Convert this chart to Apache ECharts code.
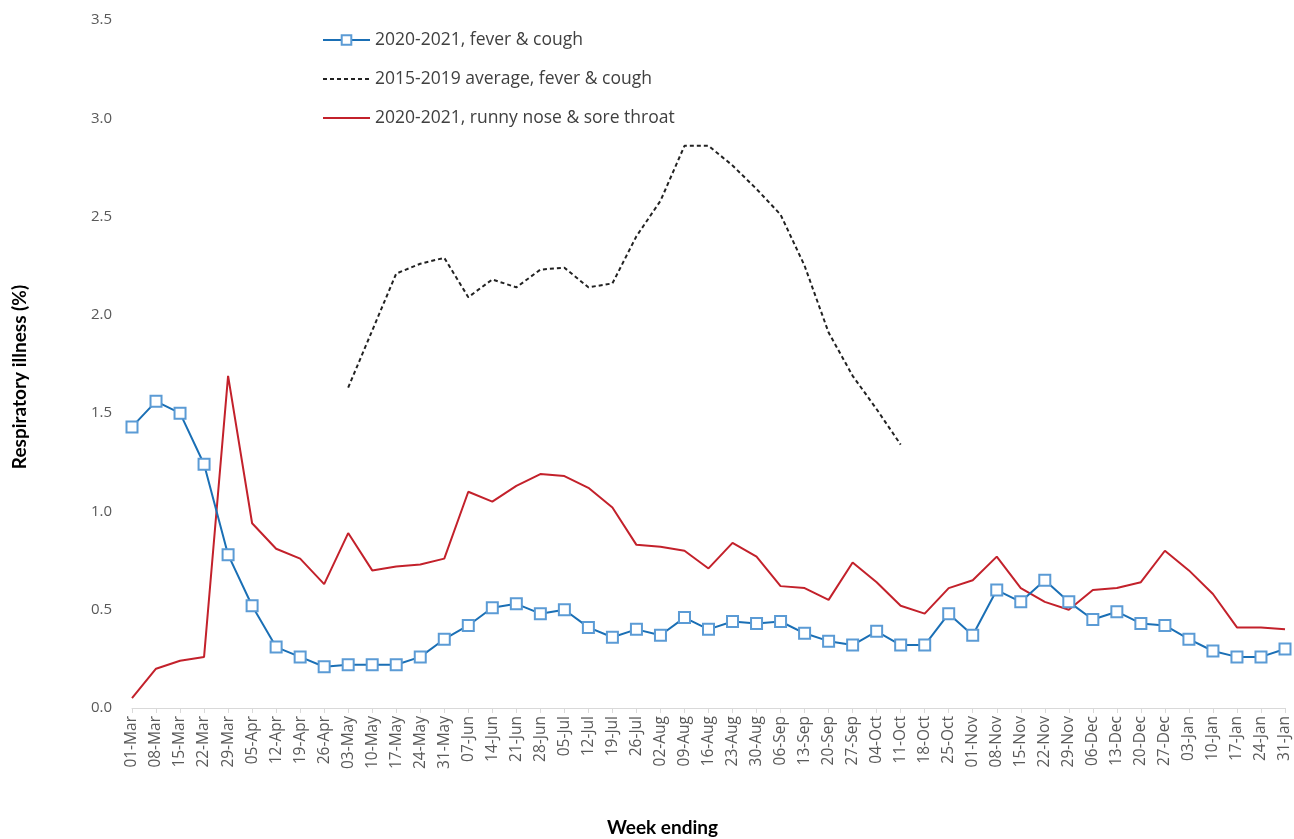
<!DOCTYPE html>
<html>
<head>
<meta charset="utf-8">
<title>Respiratory illness</title>
<script src="https://cdn.jsdelivr.net/npm/echarts@6/dist/echarts.min.js"></script>
<style>
  html, body { margin: 0; padding: 0; background: #ffffff; }
  #chart { width: 1294px; height: 839px; }
</style>
</head>
<body>
<div id="chart"></div>
<script>
// Week-ending dates, 1 March 2020 to 31 January 2021
const weeks = [
  '01-Mar','08-Mar','15-Mar','22-Mar','29-Mar',
  '05-Apr','12-Apr','19-Apr','26-Apr',
  '03-May','10-May','17-May','24-May','31-May',
  '07-Jun','14-Jun','21-Jun','28-Jun',
  '05-Jul','12-Jul','19-Jul','26-Jul',
  '02-Aug','09-Aug','16-Aug','23-Aug','30-Aug',
  '06-Sep','13-Sep','20-Sep','27-Sep',
  '04-Oct','11-Oct','18-Oct','25-Oct',
  '01-Nov','08-Nov','15-Nov','22-Nov','29-Nov',
  '06-Dec','13-Dec','20-Dec','27-Dec',
  '03-Jan','10-Jan','17-Jan','24-Jan','31-Jan'
];

// 2020-2021, fever & cough (%)
const feverCough = [
  1.43, 1.56, 1.50, 1.24, 0.78,
  0.52, 0.31, 0.26, 0.21,
  0.22, 0.22, 0.22, 0.26, 0.35,
  0.42, 0.51, 0.53, 0.48,
  0.50, 0.41, 0.36, 0.40,
  0.37, 0.46, 0.40, 0.44, 0.43,
  0.44, 0.38, 0.34, 0.32,
  0.39, 0.32, 0.32, 0.48,
  0.37, 0.60, 0.54, 0.65, 0.54,
  0.45, 0.49, 0.43, 0.42,
  0.35, 0.29, 0.26, 0.26, 0.30
];

// 2015-2019 average, fever & cough (%), available May to mid-October
const feverCoughAvg = [
  null, null, null, null, null,
  null, null, null, null,
  1.63, 1.92, 2.21, 2.26, 2.29,
  2.09, 2.18, 2.14, 2.23,
  2.24, 2.14, 2.16, 2.40,
  2.58, 2.86, 2.86, 2.76, 2.64,
  2.51, 2.25, 1.91, 1.69,
  1.52, 1.34, null, null,
  null, null, null, null, null,
  null, null, null, null,
  null, null, null, null, null
];

// 2020-2021, runny nose & sore throat (%)
const runnyNose = [
  0.05, 0.20, 0.24, 0.26, 1.69,
  0.94, 0.81, 0.76, 0.63,
  0.89, 0.70, 0.72, 0.73, 0.76,
  1.10, 1.05, 1.13, 1.19,
  1.18, 1.12, 1.02, 0.83,
  0.82, 0.80, 0.71, 0.84, 0.77,
  0.62, 0.61, 0.55, 0.74,
  0.64, 0.52, 0.48, 0.61,
  0.65, 0.77, 0.61, 0.54, 0.50,
  0.60, 0.61, 0.64, 0.80,
  0.70, 0.58, 0.41, 0.41, 0.40
];

const yTicks = { min: 0, max: 3.5, step: 0.5 };

const chart = echarts.init(document.getElementById('chart'), null, { renderer: 'canvas' });

const textFont = '"Open Sans", "DejaVu Sans", sans-serif';
const titleFont = '"Lato", "Open Sans", sans-serif';

chart.setOption({
  backgroundColor: '#ffffff',
  animation: false,
  grid: { left: 132, right: 9, top: 20, bottom: 131, containLabel: false, outerBoundsMode: 'none' },
  legend: {
    orient: 'vertical',
    left: 317,
    top: 26,
    itemWidth: 47,
    itemHeight: 12,
    itemGap: 21,
    textStyle: { fontFamily: textFont, fontSize: 17.5, color: '#404040' },
    data: [
      { name: '2020-2021, fever & cough' },
      { name: '2015-2019 average, fever & cough', itemStyle: { opacity: 0 } },
      { name: '2020-2021, runny nose & sore throat', itemStyle: { opacity: 0 } }
    ]
  },
  xAxis: {
    type: 'category',
    data: weeks,
    boundaryGap: false,
    axisLine: { lineStyle: { color: '#d9d9d9', width: 1 } },
    axisTick: { show: true, alignWithLabel: true, length: 5, lineStyle: { color: '#d9d9d9' } },
    axisLabel: {
      interval: 0,
      rotate: 90,
      margin: 8,
      fontFamily: textFont,
      fontSize: 15.5,
      color: '#595959'
    },
    splitLine: { show: false }
  },
  yAxis: {
    type: 'value',
    min: yTicks.min,
    max: yTicks.max,
    interval: yTicks.step,
    axisLine: { show: false },
    axisTick: { show: false },
    splitLine: { show: false },
    axisLabel: {
      margin: 20,
      fontFamily: textFont,
      fontSize: 15,
      color: '#595959',
      formatter: v => v.toFixed(1)
    }
  },
  graphic: [
    {
      type: 'text',
      x: 20,
      y: 377,
      rotation: Math.PI / 2,
      style: {
        text: 'Respiratory illness (%)',
        fontFamily: titleFont,
        fontSize: 19,
        fontWeight: 'bold',
        fill: '#000000',
        align: 'center',
        verticalAlign: 'middle'
      }
    },
    {
      type: 'text',
      left: 607,
      top: 818,
      style: {
        text: 'Week ending',
        fontFamily: titleFont,
        fontSize: 19,
        fontWeight: 'bold',
        fill: '#000000'
      }
    }
  ],
  series: [
    {
      name: '2020-2021, runny nose & sore throat',
      type: 'line',
      data: runnyNose,
      symbol: 'none',
      lineStyle: { color: '#c3212b', width: 2 },
      itemStyle: { color: '#c3212b' },
      z: 2
    },
    {
      name: '2015-2019 average, fever & cough',
      type: 'line',
      data: feverCoughAvg,
      symbol: 'none',
      connectNulls: false,
      lineStyle: { color: '#222222', width: 2, type: [4, 3] },
      itemStyle: { color: '#222222' },
      z: 3
    },
    {
      name: '2020-2021, fever & cough',
      type: 'line',
      data: feverCough,
      symbol: 'rect',
      symbolSize: 11,
      showAllSymbol: true,
      lineStyle: { color: '#1a6fb5', width: 2 },
      itemStyle: { color: '#ffffff', borderColor: '#5b9bd5', borderWidth: 2 },
      z: 4
    }
  ]
});
</script>
</body>
</html>
